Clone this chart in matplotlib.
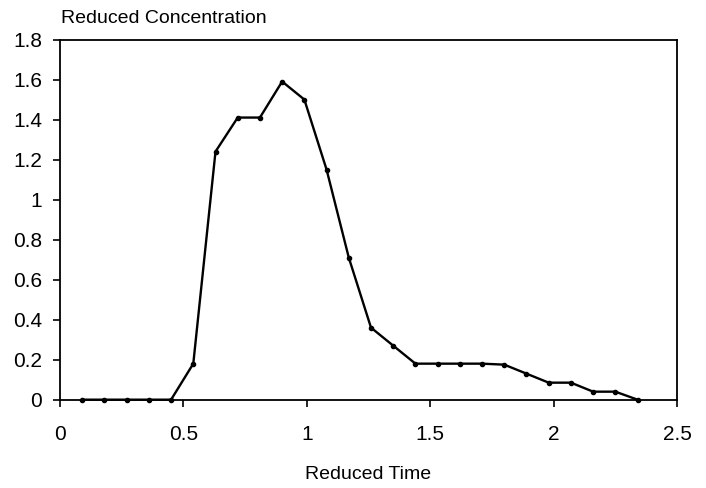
import matplotlib
matplotlib.use("Agg")
import matplotlib.pyplot as plt

# reduced time and reduced concentration
reduced_time = [0.09, 0.18, 0.27, 0.36, 0.45, 0.54, 0.63, 0.72, 0.81, 0.90,
                0.99, 1.08, 1.17, 1.26, 1.35, 1.44, 1.53, 1.62, 1.71, 1.80,
                1.89, 1.98, 2.07, 2.16, 2.25, 2.34]
reduced_conc = [0.0, 0.0, 0.0, 0.0, 0.0, 0.18, 1.24, 1.41, 1.41, 1.59,
                1.50, 1.15, 0.71, 0.36, 0.27, 0.18, 0.18, 0.18, 0.18, 0.175,
                0.13, 0.085, 0.085, 0.04, 0.04, 0.0]

xticks = [0, 0.5, 1, 1.5, 2, 2.5]
xticklabels = ["0", "0.5", "1", "1.5", "2", "2.5"]
yticks = [0, 0.2, 0.4, 0.6, 0.8, 1, 1.2, 1.4, 1.6, 1.8]
yticklabels = ["0", "0.2", "0.4", "0.6", "0.8", "1", "1.2", "1.4", "1.6", "1.8"]

plt.rcParams["font.family"] = ["Liberation Sans", "DejaVu Sans"]

fig = plt.figure(figsize=(7.06, 4.88), dpi=100)
ax = fig.add_axes([0.085, 0.181, 0.874, 0.738])

ax.plot(reduced_time, reduced_conc, color="black", lw=1.7,
        marker="o", markersize=3, clip_on=False)

ax.set_xlim(0, 2.5)
ax.set_ylim(0, 1.8)
ax.set_xticks(xticks)
ax.set_xticklabels(xticklabels)
ax.set_yticks(yticks)
ax.set_yticklabels(yticklabels)
ax.tick_params(axis="x", direction="out", length=5, width=1.2, pad=13, labelsize=15)
ax.tick_params(axis="y", direction="out", length=5, width=1.2, pad=8, labelsize=15)
for s in ax.spines.values():
    s.set_linewidth(1.3)

ax.set_xlabel("Reduced Time", fontsize=14, labelpad=16)
fig.text(0.086, 0.962, "Reduced Concentration", fontsize=14, ha="left", va="center")

fig.savefig("out.png", dpi=100)
